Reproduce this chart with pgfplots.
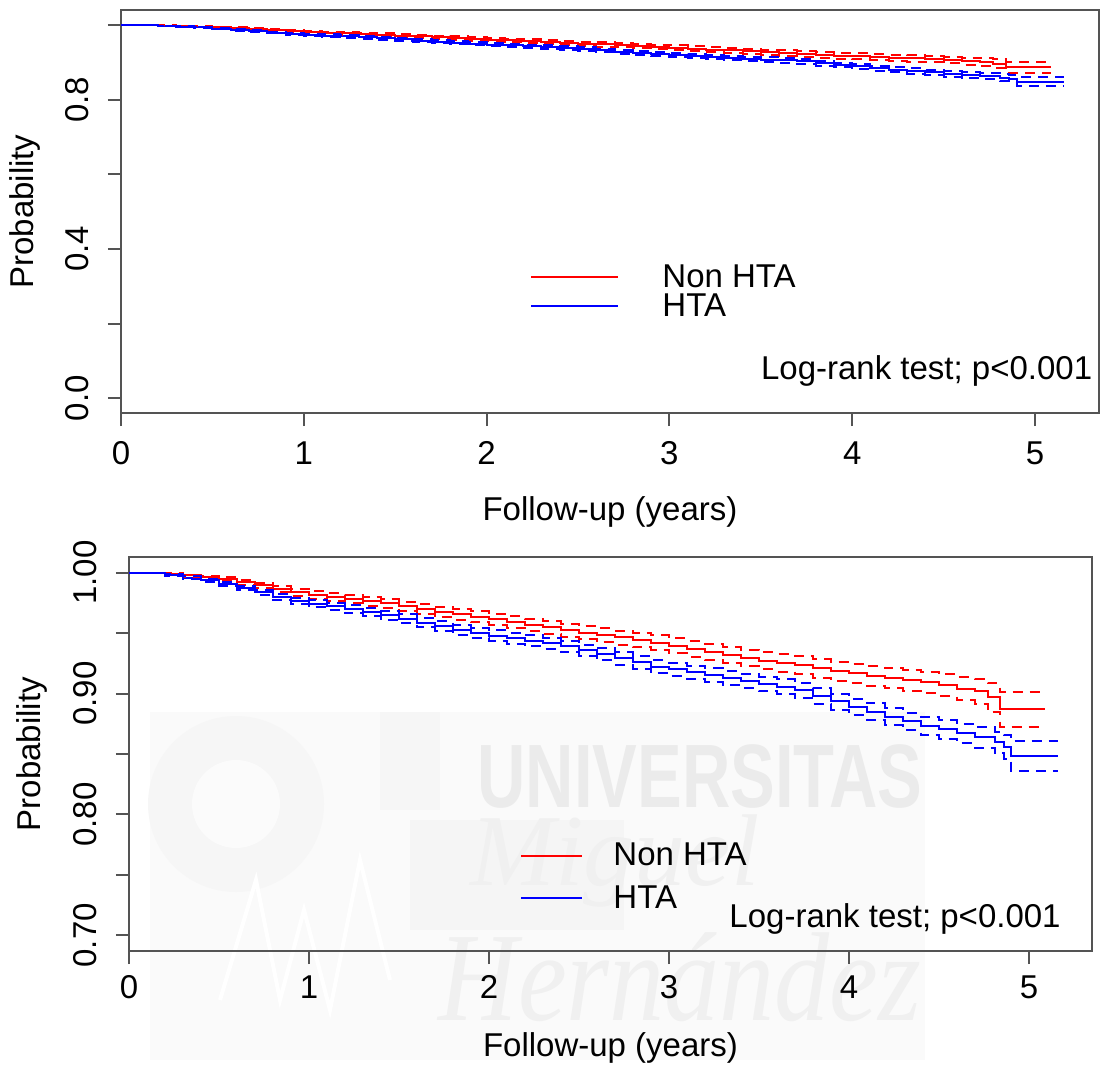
\documentclass[border=0pt]{standalone}
\usepackage{fontspec}
\setmainfont{Liberation Sans}
\newfontfamily\wmserif{Liberation Serif}
\usepackage{pgfplots}
\usepackage{pgfplotstable}
\pgfplotsset{compat=1.18}

% Kaplan-Meier estimate with 95% confidence limits: time, survival, upper, lower
\pgfplotstableread{
t    s      u      l
0.00 1.0000 1.0000 1.0000
0.10 1.0000 1.0000 1.0000
0.20 0.9990 0.9994 0.9986
0.30 0.9977 0.9985 0.9968
0.40 0.9964 0.9976 0.9951
0.50 0.9945 0.9961 0.9928
0.60 0.9922 0.9941 0.9902
0.70 0.9895 0.9917 0.9871
0.80 0.9867 0.9892 0.9840
0.90 0.9837 0.9865 0.9807
1.00 0.9815 0.9845 0.9783
1.10 0.9798 0.9830 0.9764
1.20 0.9781 0.9814 0.9746
1.30 0.9764 0.9799 0.9727
1.40 0.9746 0.9782 0.9707
1.50 0.9723 0.9761 0.9683
1.60 0.9700 0.9739 0.9658
1.70 0.9678 0.9719 0.9634
1.80 0.9657 0.9699 0.9612
1.90 0.9636 0.9680 0.9589
2.00 0.9614 0.9659 0.9566
2.10 0.9592 0.9639 0.9542
2.20 0.9570 0.9618 0.9519
2.30 0.9547 0.9597 0.9494
2.40 0.9526 0.9577 0.9471
2.50 0.9505 0.9558 0.9449
2.60 0.9485 0.9539 0.9427
2.70 0.9465 0.9521 0.9405
2.80 0.9443 0.9500 0.9382
2.90 0.9422 0.9481 0.9359
3.00 0.9397 0.9457 0.9333
3.10 0.9372 0.9434 0.9306
3.20 0.9347 0.9410 0.9280
3.30 0.9322 0.9387 0.9253
3.40 0.9297 0.9363 0.9226
3.50 0.9273 0.9341 0.9200
3.60 0.9256 0.9326 0.9181
3.70 0.9238 0.9310 0.9161
3.80 0.9210 0.9283 0.9132
3.90 0.9185 0.9260 0.9105
4.00 0.9167 0.9243 0.9086
4.10 0.9148 0.9226 0.9065
4.20 0.9129 0.9209 0.9043
4.30 0.9111 0.9194 0.9022
4.40 0.9093 0.9178 0.9002
4.50 0.9070 0.9158 0.8976
4.60 0.9042 0.9134 0.8944
4.70 0.9020 0.9120 0.8913
4.77 0.8970 0.9085 0.8847
4.84 0.8872 0.9012 0.8722
5.09 0.8872 0.9012 0.8722
}\nonhta

\pgfplotstableread{
t    s      u      l
0.00 1.0000 1.0000 1.0000
0.10 1.0000 1.0000 1.0000
0.20 0.9980 0.9986 0.9974
0.30 0.9960 0.9969 0.9951
0.40 0.9940 0.9952 0.9927
0.50 0.9910 0.9925 0.9894
0.60 0.9875 0.9893 0.9856
0.70 0.9840 0.9861 0.9818
0.80 0.9803 0.9827 0.9778
0.90 0.9767 0.9794 0.9739
1.00 0.9745 0.9774 0.9715
1.10 0.9722 0.9752 0.9690
1.20 0.9698 0.9730 0.9664
1.30 0.9673 0.9707 0.9638
1.40 0.9648 0.9683 0.9611
1.50 0.9618 0.9655 0.9580
1.60 0.9588 0.9626 0.9548
1.70 0.9557 0.9597 0.9516
1.80 0.9527 0.9568 0.9484
1.90 0.9503 0.9545 0.9459
2.00 0.9480 0.9523 0.9435
2.10 0.9458 0.9502 0.9412
2.20 0.9437 0.9482 0.9390
2.30 0.9417 0.9463 0.9368
2.40 0.9390 0.9437 0.9341
2.50 0.9358 0.9406 0.9308
2.60 0.9325 0.9374 0.9274
2.70 0.9292 0.9342 0.9240
2.80 0.9258 0.9309 0.9204
2.90 0.9224 0.9276 0.9169
3.00 0.9200 0.9253 0.9144
3.10 0.9177 0.9231 0.9120
3.20 0.9153 0.9208 0.9095
3.30 0.9128 0.9184 0.9069
3.40 0.9103 0.9160 0.9043
3.50 0.9080 0.9138 0.9019
3.60 0.9057 0.9117 0.8994
3.70 0.9030 0.9091 0.8965
3.80 0.8980 0.9043 0.8914
3.90 0.8935 0.9000 0.8867
4.00 0.8893 0.8959 0.8824
4.10 0.8851 0.8919 0.8780
4.20 0.8810 0.8879 0.8738
4.30 0.8770 0.8841 0.8696
4.40 0.8733 0.8806 0.8656
4.50 0.8703 0.8778 0.8624
4.60 0.8672 0.8750 0.8590
4.70 0.8638 0.8720 0.8552
4.81 0.8597 0.8685 0.8505
4.86 0.8560 0.8655 0.8460
4.90 0.8487 0.8607 0.8361
5.16 0.8487 0.8607 0.8361
}\hta

\definecolor{kmred}{RGB}{255,0,0}
\definecolor{kmblue}{RGB}{0,0,255}
\definecolor{framegray}{gray}{0.33}
\newcommand{\fs}{\fontsize{16.5}{19.8}\selectfont}

\pgfplotsset{
  kmbase/.style={
    scale only axis,
    xmin=0, xmax=5.35,
    axis line style={framegray, line width=1pt},
    tick align=outside,
    tick pos=left,
    major tick length=6.5pt,
    every tick/.style={framegray, line width=1pt},
    xtick={0,1,2,3,4,5},
    tick label style={font=\fs, inner sep=0pt},
    /pgf/number format/assume math mode=true,
    xticklabel style={anchor=north},
    yticklabel style={rotate=90, anchor=south},
    legend cell align=left,
    xlabel={Follow-up (years)},
    ylabel={Probability},
    label style={font=\fs, inner sep=0pt},
  },
  surv/.style={const plot, line width=1pt, no markers},
  band/.style={const plot, line width=1pt, dash pattern=on 5pt off 3.5pt, no markers, forget plot},
}

\begin{document}
\begin{tikzpicture}
\path[use as bounding box] (0pt,0pt) rectangle (552.5pt,-533pt);

% faint university watermark behind the lower panel
\fill[black!2] (75pt,-356pt) rectangle (462.5pt,-530pt);
\fill[black!3.5] (118pt,-402pt) circle (44pt);
\fill[black!1.5] (118pt,-402pt) circle (22pt);
\fill[black!3.5] (190pt,-356pt) rectangle (220pt,-405pt);
\fill[black!4] (205pt,-410pt) rectangle (312pt,-465pt);
\draw[white, line width=2pt] (110pt,-500pt) -- (128pt,-440pt) -- (140pt,-500pt) -- (152pt,-455pt) -- (165pt,-505pt) -- (180pt,-430pt) -- (195pt,-490pt);
\node[font=\bfseries\fontsize{45}{45}\selectfont, text=black!8, xscale=0.744, inner sep=0pt] at (350pt,-388.5pt) {UNIVERSITAS};
\node[font=\wmserif\itshape\fontsize{51}{51}\selectfont, text=black!6, anchor=base, inner sep=0pt] at (307.5pt,-442.5pt) {Miguel};
\node[font=\wmserif\itshape\fontsize{55}{55}\selectfont, text=black!6, anchor=base, yscale=1.15, inner sep=0pt] at (340pt,-510pt) {Hernández};

% upper panel: full probability scale
\begin{axis}[kmbase,
  at={(60.5pt,-5.15pt)}, anchor=north west,
  width=489pt, height=201.35pt,
  ymin=-0.04, ymax=1.04,
  ytick={0,0.2,0.4,0.6,0.8,1},
  yticklabels={0.0,,0.4,,0.8,},
  xticklabel shift=7.5pt,
  yticklabel shift=9.5pt,
  xlabel style={at={(axis description cs:0.5,-0.268)}, anchor=base},
  ylabel style={at={(axis description cs:-0.089,0.5)}, anchor=base},
  legend image code/.code={\draw[#1] (0pt,0pt) -- (43.5pt,0pt);},
  legend style={at={(axis cs:2.24,0.358)}, anchor=north west, draw=none, fill=none,
    inner sep=0pt, outer sep=0pt, row sep=1.5pt, column sep=21.5pt, font=\fs,
    nodes={inner sep=0pt}},
]
\addplot[surv, kmred] table[x=t, y=s] {\nonhta};
\addplot[surv, kmblue] table[x=t, y=s] {\hta};
\addplot[band, kmred] table[x=t, y=u] {\nonhta};
\addplot[band, kmred] table[x=t, y=l] {\nonhta};
\addplot[band, kmblue] table[x=t, y=u] {\hta};
\addplot[band, kmblue] table[x=t, y=l] {\hta};
\legend{Non HTA, HTA}
\node[anchor=base east, font=\fs, inner sep=0pt] at (axis cs:5.315,0.05) {Log-rank test; p<0.001};
\end{axis}

% lower panel: zoomed probability scale
\begin{axis}[kmbase,
  at={(64.5pt,-278.5pt)}, anchor=north west,
  width=481.5pt, height=197pt,
  ymin=0.687, ymax=1.013,
  ytick={0.70,0.75,0.80,0.85,0.90,0.95,1.00},
  yticklabels={0.70,,0.80,,0.90,,1.00},
  xticklabel shift=5.5pt,
  yticklabel shift=9.5pt,
  xlabel style={at={(axis description cs:0.5,-0.269)}, anchor=base},
  ylabel style={at={(axis description cs:-0.0914,0.5)}, anchor=base},
  legend image code/.code={\draw[#1] (0pt,0pt) -- (30.5pt,0pt);},
  legend style={at={(axis cs:2.175,0.7765)}, anchor=north west, draw=none, fill=none,
    inner sep=0pt, outer sep=0pt, row sep=8.5pt, column sep=15pt, font=\fs,
    nodes={inner sep=0pt}},
]
\addplot[surv, kmred] table[x=t, y=s] {\nonhta};
\addplot[surv, kmblue] table[x=t, y=s] {\hta};
\addplot[band, kmred] table[x=t, y=u] {\nonhta};
\addplot[band, kmred] table[x=t, y=l] {\nonhta};
\addplot[band, kmblue] table[x=t, y=u] {\hta};
\addplot[band, kmblue] table[x=t, y=l] {\hta};
\legend{Non HTA, HTA}
\node[anchor=base east, font=\fs, inner sep=0pt] at (axis cs:5.178,0.7061) {Log-rank test; p<0.001};
\end{axis}
\end{tikzpicture}
\end{document}
